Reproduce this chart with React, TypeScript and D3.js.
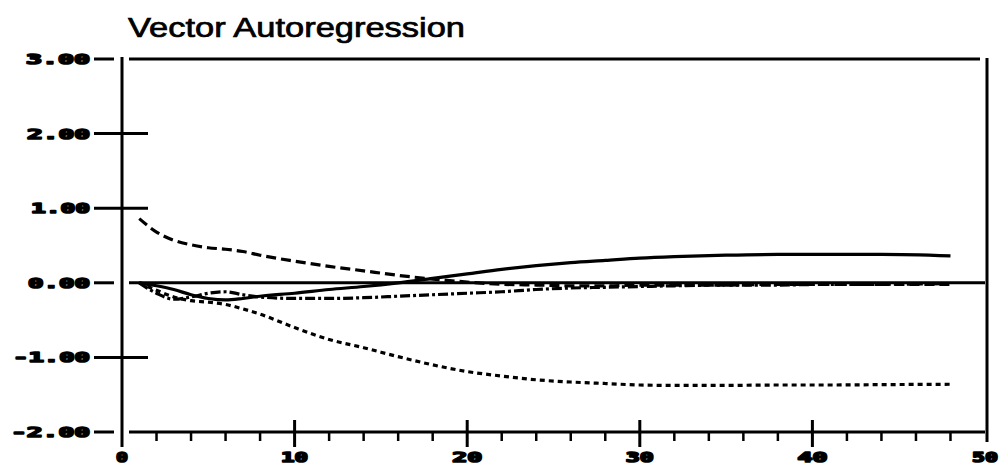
import React from "react";
import * as d3 from "d3";

const steps = [1, 2, 3, 4, 5, 6, 7, 8, 10, 12, 14, 16, 18, 20, 22, 24, 26, 28, 30, 32, 35, 38, 41, 44, 48];
const solidSeries = [0, -0.04, -0.09, -0.16, -0.21, -0.23, -0.21, -0.18, -0.14, -0.09, -0.05, 0.0, 0.06, 0.12, 0.18, 0.23, 0.27, 0.3, 0.33, 0.35, 0.37, 0.38, 0.38, 0.38, 0.36];
const longDashSeries = [0.86, 0.68, 0.57, 0.51, 0.47, 0.45, 0.42, 0.37, 0.29, 0.22, 0.16, 0.1, 0.05, 0.01, -0.02, -0.03, -0.04, -0.04, -0.03, -0.03, -0.03, -0.02, -0.02, -0.02, -0.02];
const dashDotSeries = [0, -0.14, -0.22, -0.19, -0.14, -0.12, -0.16, -0.19, -0.21, -0.21, -0.2, -0.18, -0.16, -0.14, -0.12, -0.09, -0.07, -0.06, -0.05, -0.04, -0.03, -0.03, -0.02, -0.02, -0.01];
const dottedSeries = [0, -0.1, -0.19, -0.24, -0.26, -0.29, -0.35, -0.42, -0.6, -0.76, -0.87, -0.99, -1.1, -1.19, -1.25, -1.3, -1.33, -1.35, -1.37, -1.375, -1.375, -1.37, -1.37, -1.365, -1.36];

const yTicks = [3, 2, 1, 0, -1, -2];
const yTickLabels = ["3.00", "2.00", "1.00", "0.00", "-1.00", "-2.00"];
const xTicks = [0, 10, 20, 30, 40, 50];
const xTickLabels = ["0", "10", "20", "30", "40", "50"];
const title = "Vector Autoregression";

export default function App() {
  const x = d3.scaleLinear().domain([0, 50]).range([122, 985]);
  const y = d3.scaleLinear().domain([-2, 3]).range([432, 59]);

  const mk = (vals: number[]) =>
    d3
      .line<number>()
      .x((_, i) => x(steps[i]))
      .y((v) => y(v))
      .curve(d3.curveMonotoneX)(vals) || "";

  const series = [
    { vals: solidSeries, dash: "none" },
    { vals: longDashSeries, dash: "10 5" },
    { vals: dashDotSeries, dash: "10 3 3 3" },
    { vals: dottedSeries, dash: "5 4" },
  ];

  const yLabelLen: Record<string, number> = { "3.00": 64, "2.00": 63, "1.00": 59, "0.00": 62, "-1.00": 77, "-2.00": 79 };
  const xLabelLen: Record<string, number> = { "0": 12, "10": 27, "20": 30, "30": 28, "40": 30, "50": 26 };

  const minor = d3.range(2, 50, 2).filter((t) => t % 10 !== 0);
  const labelFont = "'DejaVu Sans Mono', monospace";

  return (
    <svg width={1005} height={464} style={{ position: "absolute", left: 0, top: 0, background: "#fff" }}>
      <rect width={1005} height={464} fill="#fff" />
      <text x={128} y={37} fontFamily="'Liberation Sans', Arial, sans-serif" fontSize={27} textLength={337} lengthAdjust="spacingAndGlyphs" fill="#000" stroke="#000" strokeWidth={0.7}>
        {title}
      </text>

      {/* frame */}
      <line x1={x(0)} x2={x(0)} y1={57} y2={447} stroke="#000" strokeWidth={3} />
      <line x1={129} x2={980} y1={y(3)} y2={y(3)} stroke="#000" strokeWidth={3} />
      <line x1={987} x2={987} y1={58} y2={442} stroke="#000" strokeWidth={3} />
      <line x1={129} x2={985} y1={y(-2)} y2={y(-2)} stroke="#000" strokeWidth={3} />
      <line x1={129} x2={985} y1={y(0)} y2={y(0)} stroke="#000" strokeWidth={3} />

      {/* y ticks */}
      {yTicks.map((t, i) => {
        const edge = t === 3 || t === 0 || t === -2;
        const lab = yTickLabels[i];
        const len = yLabelLen[lab];
        return (
          <g key={"y" + t}>
            <line x1={94} x2={edge ? 114 : 148} y1={y(t)} y2={y(t)} stroke="#000" strokeWidth={3} />
            <text x={90 - len} y={y(t) + 5} fontFamily={labelFont} fontWeight="bold" fontSize={14} textLength={len} lengthAdjust="spacingAndGlyphs" fill="#000" stroke="#000" strokeWidth={1.6} strokeLinejoin="round">
              {lab}
            </text>
          </g>
        );
      })}

      {/* x ticks */}
      {xTicks.map((t, i) => {
        const lab = xTickLabels[i];
        const len = xLabelLen[lab];
        return (
          <g key={"x" + t}>
            {t > 0 && t < 50 && <line x1={x(t)} x2={x(t)} y1={420} y2={447} stroke="#000" strokeWidth={3} />}
            <text x={x(t) - len / 2} y={462} fontFamily={labelFont} fontWeight="bold" fontSize={14} textLength={len} lengthAdjust="spacingAndGlyphs" fill="#000" stroke="#000" strokeWidth={1.6} strokeLinejoin="round">
              {lab}
            </text>
          </g>
        );
      })}
      {minor.map((t) => (
        <line key={"m" + t} x1={x(t)} x2={x(t)} y1={433} y2={441} stroke="#000" strokeWidth={2.5} />
      ))}

      {/* series */}
      {series.map((s, i) => (
        <path key={i} d={mk(s.vals)} fill="none" stroke="#000" strokeWidth={3.2} strokeDasharray={s.dash} />
      ))}
    </svg>
  );
}
